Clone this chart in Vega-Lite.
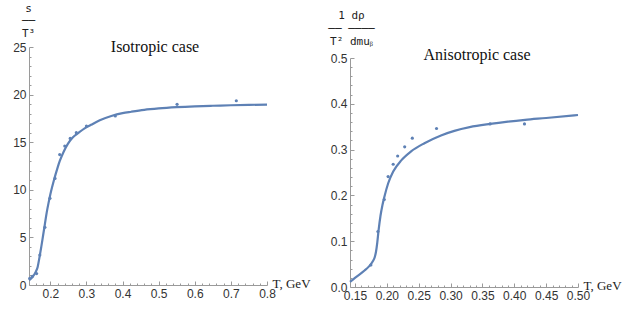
{
  "$schema": "https://vega.github.io/schema/vega-lite/v6.json",
  "padding": {"left": 12, "top": 2, "right": 2, "bottom": 2},
  "spacing": 83,
  "bounds": "flush",
  "background": "white",
  "config": {
    "view": {"stroke": null},
    "axis": {
      "grid": false,
      "domainColor": "#9a9a9a",
      "tickColor": "#9a9a9a",
      "labelColor": "#333333",
      "labelFont": "Liberation Sans",
      "labelFontSize": 12,
      "labelFlush": false,
      "labelOverlap": false,
      "tickSize": -4,
      "labelPadding": 7,
      "titleFontWeight": "normal"
    },
    "title": {"font": "Liberation Serif", "fontSize": 16, "fontWeight": "normal", "color": "#111111", "frame": "group", "anchor": "middle"}
  },
  "datasets": {
    "isoCurve": [
      {"T": 0.141, "v": 0.5}, {"T": 0.15, "v": 0.8}, {"T": 0.16, "v": 1.4}, {"T": 0.165, "v": 1.9},
      {"T": 0.17, "v": 2.9}, {"T": 0.175, "v": 4.0}, {"T": 0.18, "v": 5.2}, {"T": 0.185, "v": 6.4},
      {"T": 0.19, "v": 7.6}, {"T": 0.195, "v": 8.6}, {"T": 0.2, "v": 9.5}, {"T": 0.21, "v": 11.0},
      {"T": 0.22, "v": 12.3}, {"T": 0.226, "v": 13.0}, {"T": 0.237, "v": 14.0}, {"T": 0.249, "v": 14.85},
      {"T": 0.262, "v": 15.5}, {"T": 0.277, "v": 15.95}, {"T": 0.295, "v": 16.45}, {"T": 0.314, "v": 16.85},
      {"T": 0.337, "v": 17.3}, {"T": 0.369, "v": 17.75}, {"T": 0.4, "v": 18.05}, {"T": 0.424, "v": 18.2},
      {"T": 0.46, "v": 18.4}, {"T": 0.5, "v": 18.55}, {"T": 0.55, "v": 18.68}, {"T": 0.6, "v": 18.77},
      {"T": 0.65, "v": 18.83}, {"T": 0.7, "v": 18.88}, {"T": 0.75, "v": 18.92}, {"T": 0.8, "v": 18.95}
    ],
    "isoPts": [
      {"T": 0.143, "v": 0.7}, {"T": 0.15, "v": 0.9}, {"T": 0.162, "v": 1.2}, {"T": 0.171, "v": 3.15},
      {"T": 0.185, "v": 6.06}, {"T": 0.199, "v": 9.1}, {"T": 0.213, "v": 11.2}, {"T": 0.226, "v": 13.7},
      {"T": 0.24, "v": 14.6}, {"T": 0.255, "v": 15.4}, {"T": 0.272, "v": 16.0}, {"T": 0.3, "v": 16.7},
      {"T": 0.38, "v": 17.75}, {"T": 0.551, "v": 18.98}, {"T": 0.715, "v": 19.35}
    ],
    "anisoCurve": [
      {"T": 0.1422, "v": 0.011}, {"T": 0.15, "v": 0.02}, {"T": 0.165, "v": 0.036}, {"T": 0.172, "v": 0.045},
      {"T": 0.178, "v": 0.056}, {"T": 0.181, "v": 0.065}, {"T": 0.183, "v": 0.077}, {"T": 0.185, "v": 0.097},
      {"T": 0.187, "v": 0.123}, {"T": 0.19, "v": 0.155}, {"T": 0.193, "v": 0.178}, {"T": 0.196, "v": 0.196},
      {"T": 0.202, "v": 0.226}, {"T": 0.21, "v": 0.252}, {"T": 0.223, "v": 0.277},
      {"T": 0.238, "v": 0.296}, {"T": 0.259, "v": 0.314}, {"T": 0.285, "v": 0.331}, {"T": 0.306, "v": 0.341},
      {"T": 0.33, "v": 0.349}, {"T": 0.362, "v": 0.356}, {"T": 0.39, "v": 0.361}, {"T": 0.417, "v": 0.365},
      {"T": 0.45, "v": 0.369}, {"T": 0.5, "v": 0.3755}
    ],
    "anisoPts": [
      {"T": 0.175, "v": 0.048}, {"T": 0.186, "v": 0.121}, {"T": 0.196, "v": 0.191}, {"T": 0.202, "v": 0.241},
      {"T": 0.21, "v": 0.268}, {"T": 0.217, "v": 0.286}, {"T": 0.228, "v": 0.306}, {"T": 0.24, "v": 0.325},
      {"T": 0.278, "v": 0.346}, {"T": 0.362, "v": 0.356}, {"T": 0.416, "v": 0.356}
    ]
  },
  "hconcat": [
    {
      "width": 238,
      "height": 238,
      "title": {"text": "Isotropic case", "baseline": "middle", "dx": 7, "dy": 65},
      "layer": [
        {
          "data": {"name": "isoCurve"},
          "mark": {"type": "line", "color": "#5E81B5", "strokeWidth": 2.2, "interpolate": "monotone"},
          "encoding": {
            "x": {"field": "T", "type": "quantitative",
              "scale": {"domain": [0.141, 0.8], "nice": false, "zero": false},
              "axis": {"orient": "bottom", "values": [0.2, 0.3, 0.4, 0.5, 0.6, 0.7, 0.8], "format": ".1f",
                "title": "T, GeV", "titleFont": "Liberation Serif", "titleFontSize": 13, "titleColor": "#222222",
                "titleAlign": "left", "titleBaseline": "middle", "titleX": 243, "titleY": -2, "titleAngle": 0}},
            "y": {"field": "v", "type": "quantitative",
              "scale": {"domain": [0, 25], "nice": false},
              "axis": {"orient": "left", "values": [0, 5, 10, 15, 20, 25],
                "title": ["s", "──", "T³"], "titleFont": "DejaVu Sans Mono", "titleFontSize": 11, "titleColor": "#222222",
                "titleAngle": 0, "titleAlign": "center", "titleBaseline": "top", "titleLineHeight": 12.5,
                "titleX": -1, "titleY": -45}}
          }
        },
        {
          "data": {"name": "isoPts"},
          "mark": {"type": "circle", "color": "#5E81B5", "size": 10, "opacity": 1},
          "encoding": {
            "x": {"field": "T", "type": "quantitative",
              "axis": {"orient": "bottom", "values": [0.16, 0.18, 0.22, 0.24, 0.26, 0.28, 0.32, 0.34, 0.36, 0.38, 0.42, 0.44, 0.46, 0.48, 0.52, 0.54, 0.56, 0.58, 0.62, 0.64, 0.66, 0.68, 0.72, 0.74, 0.76, 0.78],
                "labels": false, "domain": false, "tickSize": -2, "title": null}},
            "y": {"field": "v", "type": "quantitative",
              "axis": {"orient": "left", "values": [1, 2, 3, 4, 6, 7, 8, 9, 11, 12, 13, 14, 16, 17, 18, 19, 21, 22, 23, 24],
                "labels": false, "domain": false, "tickSize": -2, "title": null}}
          }
        }
      ],
      "resolve": {"axis": {"x": "independent", "y": "independent"}}
    },
    {
      "width": 228,
      "height": 240,
      "title": {"text": "Anisotropic case", "baseline": "middle", "dx": 13, "dy": 66},
      "layer": [
        {
          "data": {"name": "anisoCurve"},
          "mark": {"type": "line", "color": "#5E81B5", "strokeWidth": 2.2, "interpolate": "monotone"},
          "encoding": {
            "x": {"field": "T", "type": "quantitative",
              "scale": {"domain": [0.1422, 0.5], "nice": false, "zero": false},
              "axis": {"orient": "bottom", "values": [0.15, 0.2, 0.25, 0.3, 0.35, 0.4, 0.45, 0.5], "format": ".2f",
                "title": "T, GeV", "titleFont": "Liberation Serif", "titleFontSize": 13, "titleColor": "#222222",
                "titleAlign": "left", "titleBaseline": "middle", "titleX": 233, "titleY": -2, "titleAngle": 0}},
            "y": {"field": "v", "type": "quantitative",
              "scale": {"domain": [0, 0.5], "nice": false, "range": [240, 11]},
              "axis": {"orient": "left", "values": [0, 0.1, 0.2, 0.3, 0.4, 0.5], "format": ".1f",
                "title": ["1   dρ ", "── ────", "T² dmuᵦ"], "titleFont": "DejaVu Sans Mono", "titleFontSize": 11, "titleColor": "#222222",
                "titleAngle": 0, "titleAlign": "center", "titleBaseline": "top", "titleLineHeight": 13,
                "titleX": 1, "titleY": -38}}
          }
        },
        {
          "data": {"name": "anisoPts"},
          "mark": {"type": "circle", "color": "#5E81B5", "size": 10, "opacity": 1},
          "encoding": {
            "x": {"field": "T", "type": "quantitative",
              "axis": {"orient": "bottom", "values": [0.16, 0.17, 0.18, 0.19, 0.21, 0.22, 0.23, 0.24, 0.26, 0.27, 0.28, 0.29, 0.31, 0.32, 0.33, 0.34, 0.36, 0.37, 0.38, 0.39, 0.41, 0.42, 0.43, 0.44, 0.46, 0.47, 0.48, 0.49],
                "labels": false, "domain": false, "tickSize": -2, "title": null}},
            "y": {"field": "v", "type": "quantitative",
              "axis": {"orient": "left", "values": [0.02, 0.04, 0.06, 0.08, 0.12, 0.14, 0.16, 0.18, 0.22, 0.24, 0.26, 0.28, 0.32, 0.34, 0.36, 0.38, 0.42, 0.44, 0.46, 0.48],
                "labels": false, "domain": false, "tickSize": -2, "title": null}}
          }
        }
      ],
      "resolve": {"axis": {"x": "independent", "y": "independent"}}
    }
  ]
}
